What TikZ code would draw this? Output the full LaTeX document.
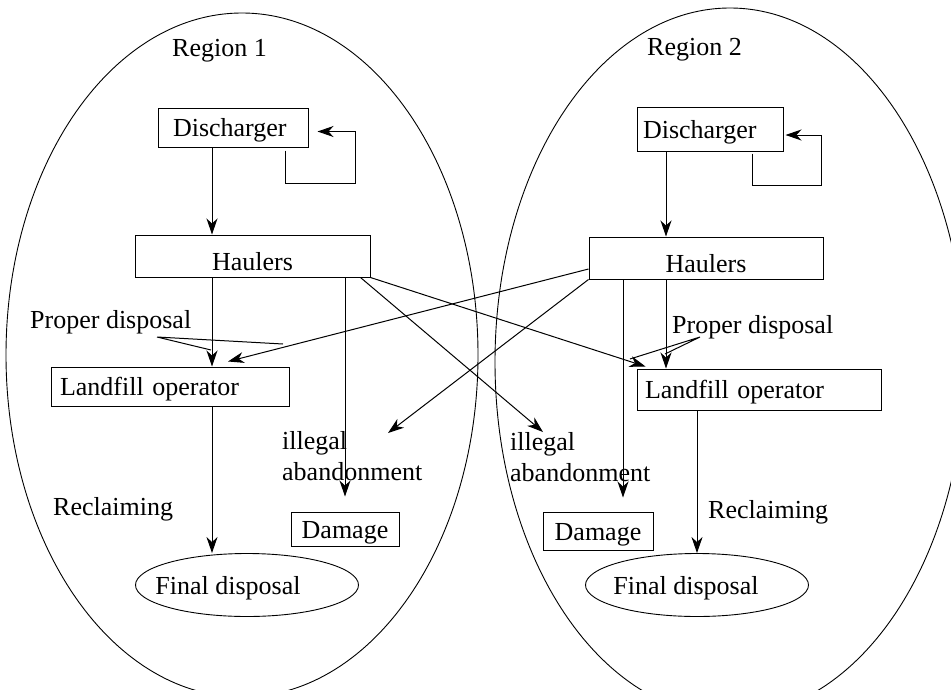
\documentclass[tikz,border=0pt]{standalone}
\usepackage{fontspec}
\setmainfont{Liberation Serif}
\usetikzlibrary{arrows.meta,
                shapes.geometric}
\tikzset{
  box/.style={draw, line width=1pt, inner sep=0pt, text height=18pt, text depth=0pt, align=left},
  finalbox/.style={draw, ellipse, line width=0.9pt, inner sep=0pt, minimum width=223pt, minimum height=63pt, text height=18pt, text depth=0pt},
  tag/.style={inner sep=0pt, anchor=base west, align=left},
  arr/.style={line width=1pt, -{Stealth[length=16pt,width=11pt,inset=5pt]}},
  link/.style={line width=1pt},
  region/.style={line width=0.9pt}
}

\begin{document}
\begin{tikzpicture}[x=1pt, y=-1pt, font=\fontsize{26}{31}\selectfont]
 \useasboundingbox (0,0) rectangle (951,689);
 \clip (0,0) rectangle (951,689);

 \draw[region] (242,355) ellipse [x radius=236, y radius=342];
 \draw[region] (730,362) ellipse [x radius=235, y radius=354];

 \node[tag] (reg1) at (172,56) {Region 1};
 \node[tag] (reg2) at (647,55) {Region 2};

 \node[box, minimum width=150pt, minimum height=39pt, text width=120pt] (dis1) at (233,127.5) {Discharger};
 \node[box, minimum width=146pt, minimum height=44pt, text width=134pt] (dis2) at (710,129) {Discharger};
 \node[box, minimum width=235pt, minimum height=42pt, text height=28pt] (hau1) at (252.5,256) {Haulers};
 \node[box, minimum width=234pt, minimum height=42pt, text height=28pt] (hau2) at (706,258) {Haulers};
 \node[box, minimum width=238pt, minimum height=39pt, text width=220pt] (lf1) at (170,386.5) {Landfill operator};
 \node[box, minimum width=244pt, minimum height=41pt, text width=228pt] (lf2) at (759,389.5) {Landfill operator};
 \node[box, minimum width=108pt, minimum height=34pt] (dam1) at (345,529) {Damage};
 \node[box, minimum width=110pt, minimum height=38pt] (dam2) at (598,531) {Damage};
 \node[finalbox] (fd1) at (247,585) {\hspace*{-38pt}Final disposal};
 \node[finalbox] (fd2) at (697,585) {\hspace*{-22pt}Final disposal};

 \node[tag] (pd1) at (30,328) {Proper disposal};
 \node[tag] (pd2) at (672,333) {Proper disposal};
 \node[tag] (ill1) at (282,480) {illegal\\abandonment};
 \node[tag] (ill2) at (510,481) {illegal\\abandonment};
 \node[tag] (rec1) at (53,515) {Reclaiming};
 \node[tag] (rec2) at (708,518) {Reclaiming};

 \coordinate (ab1) at (388,433);
 \coordinate (ab2) at (543,432);
 \coordinate (pd1o) at (157,337);
 \coordinate (pd1a) at (211,350);
 \coordinate (pd1b) at (283,344);
 \coordinate (pd2o) at (700,337);
 \coordinate (pd2a) at (630,359);
 \coordinate (pd2b) at (665,354);

 \draw[arr] ([xshift=-21pt]dis1.south) -- ([xshift=-21pt]dis1.south |- hau1.north);
 \draw[arr] ([xshift=52pt,yshift=-3pt]dis1.south) -- ++(0,33) -- ++(70,0) |- ([xshift=9pt,yshift=-4pt]dis1.east);
 \draw[arr] ([xshift=-44pt]dis2.south) -- ([xshift=-44pt]dis2.south |- hau2.north);
 \draw[arr] ([xshift=42pt,yshift=-2pt]dis2.south) -- ++(0,32) -- ++(69,0) |- ([xshift=2pt,yshift=-6pt]dis2.east);

 \draw[arr] ([xshift=-40.5pt]hau1.south) -- ([xshift=-40.5pt]hau1.south |- lf1.north);
 \draw[arr] (hau1.south -| dam1.north) -- ([yshift=15pt]dam1.north);
 \draw[arr] (hau1.south east) -- ([xshift=9pt,yshift=2pt]lf2.north west);
 \draw[arr] ([xshift=-10pt]hau1.south east) -- (ab2);

 \draw[arr] ([yshift=-11pt]hau2.west) -- ([xshift=58pt,yshift=5pt]lf1.north);
 \draw[arr] (hau2.south west) -- (ab1);
 \draw[arr] ([xshift=25pt]dam2.north |- hau2.south) -- ([xshift=25pt,yshift=14pt]dam2.north);
 \draw[arr] ([xshift=-40pt]hau2.south) -- ([xshift=-40pt]hau2.south |- lf2.north);

 \draw[arr] ([xshift=42pt]lf1.south) -- ([xshift=42pt]lf1.south |- fd1.north);
 \draw[arr] (lf2.south -| fd2.north) -- (fd2.north);

 \draw[link] (pd1o) -- (pd1a) (pd1o) -- (pd1b);
 \draw[link] (pd2o) -- (pd2a) (pd2o) -- (pd2b);
\end{tikzpicture}
\end{document}
